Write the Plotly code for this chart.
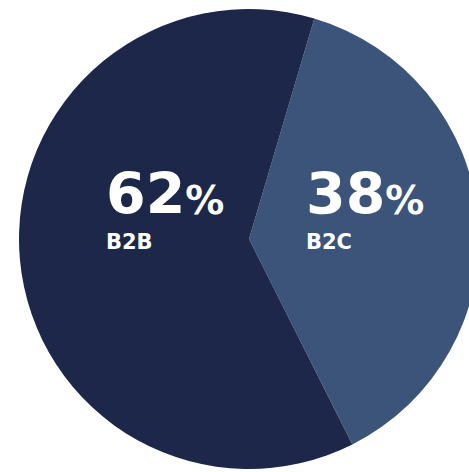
import plotly.graph_objects as go

labels = ["B2C", "B2B"]
values = [38, 62]
colors = ["#3C5479", "#1C2749"]
pct_text = ["38", "62"]

W, H = 480, 472
fig = go.Figure()
fig.add_trace(go.Pie(
    labels=labels, values=values, sort=False, direction="clockwise",
    rotation=16.5, marker=dict(colors=colors, line=dict(width=0)),
    textinfo="none", hoverinfo="label+percent", showlegend=False,
    domain=dict(x=[19 / W, 479 / W], y=[1 - 469 / H, 1 - 9 / H]),
))

pos = {"B2B": (105, 228, 255), "B2C": (305, 228, 255)}
for lab, num in zip(labels, pct_text):
    x0, yb, yl = pos[lab]
    fig.add_annotation(
        x=x0 / W, y=1 - yb / H, xref="paper", yref="paper",
        xanchor="left", yanchor="bottom", showarrow=False,
        text=f"<b>{num}</b><span style='font-size:39px'><b>%</b></span>",
        font=dict(family="DejaVu Sans", size=57, color="white"),
        borderpad=0,
    )
    fig.add_annotation(
        x=x0 / W, y=1 - yl / H, xref="paper", yref="paper",
        xanchor="left", yanchor="bottom", showarrow=False,
        text=f"<b>{lab}</b>",
        font=dict(family="DejaVu Sans", size=21, color="white"),
        borderpad=0,
    )

fig.update_layout(
    width=W, height=H, autosize=False,
    margin=dict(l=0, r=0, t=0, b=0),
    paper_bgcolor="white", plot_bgcolor="white",
)
fig.write_html("out.html", config={"displayModeBar": False},
               post_script="document.documentElement.style.overflow='hidden';document.body.style.overflow='hidden';document.body.style.margin='0';")
